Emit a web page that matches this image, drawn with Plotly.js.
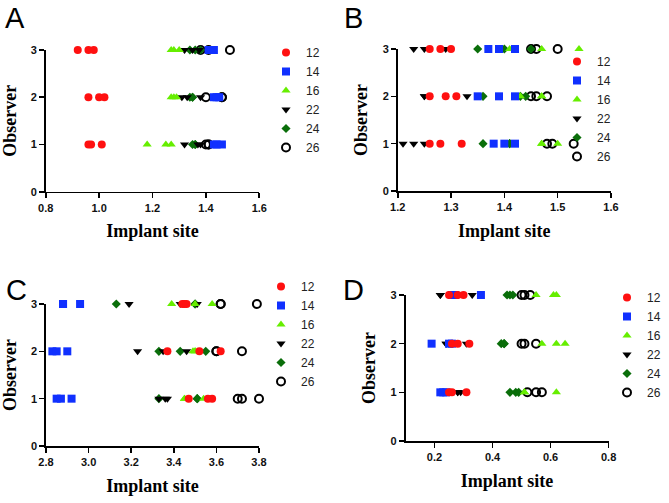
<!DOCTYPE html>
<html><head><meta charset="utf-8">
<script src="https://cdn.plot.ly/plotly-3.0.1.min.js"></script>
<style>html,body{margin:0;padding:0;background:#fff}#chart{width:669px;height:503px}</style>
</head><body><div id="chart"></div>
<script>
// Series names (legend labels)
const seriesNames = ['12', '14', '16', '22', '24', '26'];
// Observer level for each value (3 values per observer)
const observer = [1, 1, 1, 2, 2, 2, 3, 3, 3];
const yTicks = [0, 1, 2, 3];

// Panel A values (observer 1, 2, 3)
const a12 = [0.96, 0.97, 1.01, 0.96, 1.00, 1.02, 0.92, 0.96, 0.98];
const a14 = [1.43, 1.44, 1.46, 1.43, 1.44, 1.45, 1.41, 1.42, 1.43];
const a16 = [1.18, 1.25, 1.27, 1.27, 1.28, 1.29, 1.27, 1.28, 1.30];
const a22 = [1.32, 1.37, 1.38, 1.31, 1.33, 1.38, 1.32, 1.35, 1.375];
const a24 = [1.35, 1.36, 1.36, 1.34, 1.35, 1.35, 1.34, 1.36, 1.38];
const a26 = [1.40, 1.41, 1.41, 1.40, 1.46, 1.46, 1.38, 1.41, 1.49];

// Panel B values
const b12 = [1.26, 1.28, 1.32, 1.26, 1.29, 1.31, 1.26, 1.28, 1.30];
const b14 = [1.38, 1.40, 1.42, 1.35, 1.39, 1.42, 1.37, 1.39, 1.42];
const b16 = [1.47, 1.50, 1.47, 1.43, 1.47, 1.47, 1.41, 1.47, 1.54];
const b22 = [1.21, 1.23, 1.25, 1.25, 1.25, 1.33, 1.23, 1.25, 1.29];
const b24 = [1.36, 1.41, 1.41, 1.36, 1.44, 1.43, 1.35, 1.40, 1.45];
const b26 = [1.48, 1.49, 1.53, 1.45, 1.46, 1.48, 1.45, 1.46, 1.50];

// Panel C values
const c12 = [3.47, 3.56, 3.58, 3.37, 3.52, 3.62, 3.44, 3.45, 3.46];
const c14 = [2.85, 2.87, 2.92, 2.83, 2.85, 2.90, 2.88, 2.88, 2.96];
const c16 = [3.45, 3.54, 3.45, 3.49, 3.50, 3.50, 3.39, 3.58, 3.50];
const c22 = [3.33, 3.36, 3.37, 3.23, 3.35, 3.46, 3.19, 3.43, 3.51];
const c24 = [3.33, 3.51, 3.51, 3.33, 3.43, 3.55, 3.13, 3.50, 3.50];
const c26 = [3.70, 3.72, 3.80, 3.60, 3.72, 3.60, 3.62, 3.79, 3.62];

// Panel D values
const d12 = [0.25, 0.26, 0.31, 0.26, 0.28, 0.32, 0.25, 0.28, 0.30];
const d14 = [0.22, 0.23, 0.24, 0.19, 0.25, 0.26, 0.26, 0.27, 0.36];
const d16 = [0.51, 0.62, 0.51, 0.57, 0.62, 0.65, 0.55, 0.61, 0.62];
const d22 = [0.28, 0.28, 0.29, 0.24, 0.31, 0.24, 0.22, 0.33, 0.22];
const d24 = [0.46, 0.48, 0.49, 0.43, 0.44, 0.44, 0.45, 0.46, 0.47];
const d26 = [0.52, 0.55, 0.57, 0.50, 0.51, 0.55, 0.50, 0.51, 0.53];

const panelLetters = ['A', 'B', 'C', 'D'];
const xTitle = 'Implant site';
const yTitle = 'Observer';

const panels = [
  {vals: [a12, a14, a16, a22, a24, a26], xa: 'x', ya: 'y', lg: 'legend'},
  {vals: [b12, b14, b16, b22, b24, b26], xa: 'x2', ya: 'y2', lg: 'legend2'},
  {vals: [c12, c14, c16, c22, c24, c26], xa: 'x3', ya: 'y3', lg: 'legend3'},
  {vals: [d12, d14, d16, d22, d24, d26], xa: 'x4', ya: 'y4', lg: 'legend4'}
];

const styles = [
  {symbol: 'circle', color: '#ff1010', size: 8, line: {width: 0}},
  {symbol: 'square', color: '#1030ff', size: 8, line: {width: 0}},
  {symbol: 'triangle-up', color: '#66ee00', size: 8, line: {width: 0}},
  {symbol: 'triangle-down', color: '#000000', size: 8, line: {width: 0}},
  {symbol: 'diamond', color: '#0a6e0a', size: 7, line: {width: 0}},
  {symbol: 'circle-open', color: '#000000', size: 8, line: {width: 2, color: '#000000'}}
];

const traces = [];
panels.forEach(p => {
  for (let i = seriesNames.length - 1; i >= 0; i--) {
    const s = styles[i];
    traces.push({
      type: 'scatter', mode: 'markers',
      x: p.vals[i], y: observer,
      xaxis: p.xa, yaxis: p.ya, legend: p.lg,
      name: seriesNames[i], legendrank: i + 1,
      cliponaxis: false,
      marker: {symbol: s.symbol, color: s.color, size: s.size, line: s.line},
      hoverinfo: 'x+y+name'
    });
  }
});

const tickFont = {family: 'Liberation Sans, Arial, sans-serif', size: 11, color: '#111', weight: 'bold'};
const titleFont = {family: 'Liberation Serif, Times New Roman, serif', size: 18, color: '#000', weight: 'bold'};

function xAxis(domain, range, dtick, anchor, fmt) {
  return {domain: domain, range: range, anchor: anchor, tick0: range[0] < 0.2 && dtick === 0.2 ? 0 : range[0], dtick: dtick,
    tickformat: fmt, showline: true, linecolor: '#000', linewidth: 1.6, ticks: 'outside', ticklen: 5, tickwidth: 1.6,
    tickcolor: '#000', showgrid: false, zeroline: false, tickfont: tickFont, fixedrange: true,
    title: {text: xTitle, font: titleFont, standoff: 12}};
}
function yAxis(domain, anchor) {
  return {domain: domain, range: [0, 3], anchor: anchor, tickvals: yTicks, ticktext: yTicks.map(String),
    showline: true, linecolor: '#000', linewidth: 1.6, ticks: 'outside', ticklen: 5, tickwidth: 1.6,
    tickcolor: '#000', showgrid: false, zeroline: false, tickfont: tickFont, fixedrange: true,
    title: {text: yTitle, font: titleFont, standoff: 10}};
}

const W = 669, H = 503;
const px = v => v / W, py = v => 1 - v / H;

const legendBase = {bgcolor: 'rgba(0,0,0,0)', borderwidth: 0, font: {family: 'Liberation Sans, Arial, sans-serif', size: 12, color: '#222'},
  xanchor: 'left', yanchor: 'top', traceorder: 'normal', itemwidth: 30, tracegroupgap: 0};

const layout = {
  width: W, height: H, margin: {l: 0, r: 0, t: 0, b: 0},
  paper_bgcolor: '#fff', plot_bgcolor: '#fff', showlegend: true,
  xaxis: xAxis([px(45.7), px(259.3)], [0.8, 1.6], 0.2, 'y', '.1f'),
  yaxis: yAxis([py(191.7), py(50)], 'x'),
  xaxis2: xAxis([px(397.7), px(611)], [1.2, 1.6], 0.1, 'y2', '.1f'),
  yaxis2: yAxis([py(191), py(49)], 'x2'),
  xaxis3: xAxis([px(46), px(259)], [2.8, 3.8], 0.2, 'y3', '.1f'),
  yaxis3: yAxis([py(446), py(304)], 'x3'),
  xaxis4: xAxis([px(405.5), px(608.6)], [0.1, 0.8], 0.2, 'y4', '.1f'),
  yaxis4: yAxis([py(441), py(295)], 'x4'),
  legend: Object.assign({}, legendBase, {x: px(266), y: py(38)}),
  legend2: Object.assign({}, legendBase, {x: px(557), y: py(47)}),
  legend3: Object.assign({}, legendBase, {x: px(261), y: py(272)}),
  legend4: Object.assign({}, legendBase, {x: px(607), y: py(283)}),
  annotations: panelLetters.map((t, i) => ({
    text: t, xref: 'paper', yref: 'paper', showarrow: false,
    x: px([15, 353, 16, 353][i]), y: py([18, 18, 290, 290][i]), xanchor: 'center', yanchor: 'middle',
    font: {family: 'Liberation Sans, Arial, sans-serif', size: 29, color: '#000'}
  }))
};

Plotly.newPlot('chart', traces, layout, {displayModeBar: false, staticPlot: true});
</script></body></html>
